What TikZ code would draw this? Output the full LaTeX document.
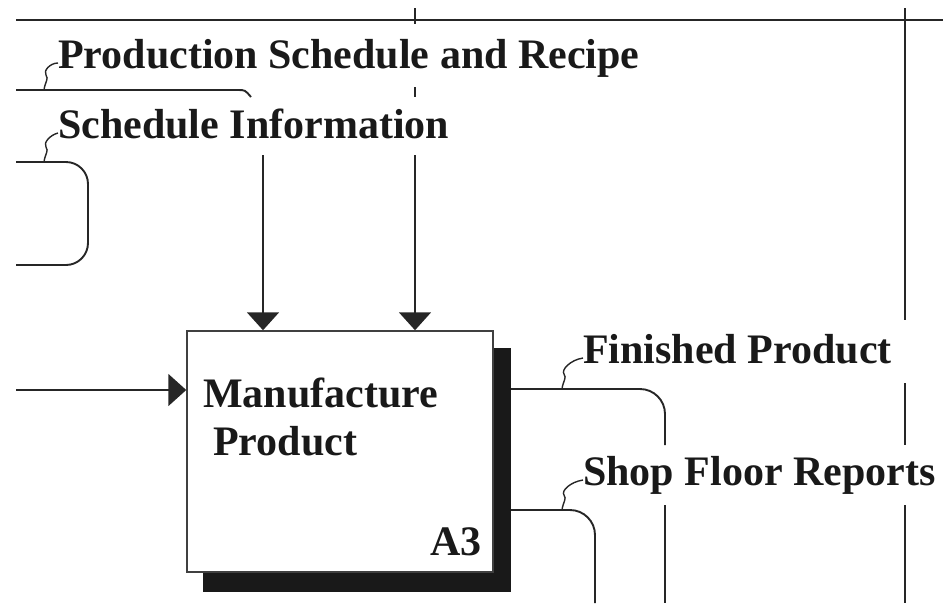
\documentclass[tikz,border=0pt]{standalone}
\usepackage{fontspec}
\setmainfont{Liberation Serif}
\usetikzlibrary{arrows.meta}
\begin{document}
\begin{tikzpicture}[x=1pt,y=-1pt,
  flow/.style={draw=black!85,line width=1.9pt},
  tip/.style={-{Triangle[width=32pt,length=18pt]}},
  lbl/.style={anchor=base west,inner sep=0pt,font=\fontsize{42}{48}\selectfont\bfseries,text=black!90},
  squig/.style={draw=black!85,line width=1.4pt}]
\useasboundingbox (0,0) rectangle (943,603);

% activity box with its drop shadow
\node[fill=black!90,draw=none,inner sep=0pt,minimum width=308pt,minimum height=244pt] (shadow) at (357,470) {};
\node[draw=black!75,line width=1.5pt,fill=white,inner sep=0pt,minimum width=306pt,minimum height=241pt] (box) at (340,451.5) {};
\node[lbl] (t1) at (203,407) {Manufacture};
\node[lbl] (t2) at (213,455) {Product};
\node[lbl,anchor=base east] (num) at (482,555) {A3};

% frame lines
\draw[flow] (16,20) -- (943,20);
\draw[flow] (905,8) -- (905,320);
\draw[flow] (905,383) -- (905,445);
\draw[flow] (905,505) -- (905,603);

% labels
\node[lbl] (psr) at (58,68) {Production Schedule and Recipe};
\node[lbl] (si) at (58,138) {Schedule Information};
\node[lbl] (fp) at (583,363) {Finished Product};
\node[lbl] (sfr) at (583,485) {Shop Floor Reports};

% production schedule and recipe
\draw[flow] (16,90) -- (238,90) .. controls (245,90) .. (251,97);
\draw[squig] (44,90) .. controls (45,82) and (49,79) .. (46,75)
  .. controls (43,71) and (50,63) .. ([yshift=5pt]psr.base west);

% schedule information loop
\draw[flow,rounded corners=22pt] (16,162) -- (88,162) -- (88,265) -- (16,265);
\draw[squig] (44,162) .. controls (45,154) and (49,151) .. (46,147)
  .. controls (43,143) and (50,135) .. ([yshift=5pt]si.base west);

% controls into the box
\draw[flow] (415,8) -- (415,24);
\draw[flow] (415,87) -- (415,97);
\coordinate (c1) at (263,155);
\coordinate (c2) at (415,155);
\draw[flow,tip] (c1) -- (c1 |- box.north);
\draw[flow,tip] (c2) -- (c2 |- box.north);

% input into the box
\coordinate (inL) at (16,390);
\draw[flow,tip] (inL) -- (inL -| box.west);

% outputs
\coordinate (fpc) at (665,389);
\coordinate (fpe) at (665,445);
\draw[flow,rounded corners=25pt] (shadow.east |- fpc) -- (fpc) -- (fpe);
\draw[flow] (665,505) -- (665,603);
\draw[squig] (562,389) .. controls (563,381) and (567,378) .. (564,374)
  .. controls (561,370) and (570,360) .. ([yshift=5pt]fp.base west);

\coordinate (sfc) at (595,510);
\coordinate (sfe) at (595,603);
\draw[flow,rounded corners=25pt] (shadow.east |- sfc) -- (sfc) -- (sfe);
\draw[squig] (562,510) .. controls (563,502) and (567,499) .. (564,495)
  .. controls (561,491) and (570,482) .. ([yshift=5pt]sfr.base west);
\end{tikzpicture}
\end{document}
